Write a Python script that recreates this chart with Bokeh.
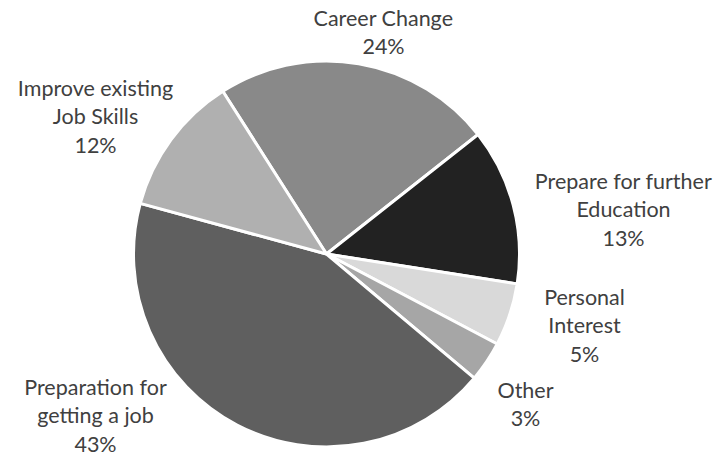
import math
from bokeh.plotting import figure
from bokeh.models import ColumnDataSource
from bokeh.core.properties import value
from bokeh.embed import file_html
from bokeh.resources import INLINE

# Data (clockwise order, starting from the Career Change slice)
categories = ["Career Change", "Prepare for further Education", "Personal Interest",
              "Other", "Preparation for getting a job", "Improve existing Job Skills"]
shares = [23.4, 13.1, 5.25, 3.4, 43.1, 11.75]
label_lines = [["Career Change", "24%"],
               ["Prepare for further", "Education", "13%"],
               ["Personal", "Interest", "5%"],
               ["Other", "3%"],
               ["Preparation for", "getting a job", "43%"],
               ["Improve existing", "Job Skills", "12%"]]
colors = ["#898989", "#222222", "#d9d9d9", "#a6a6a6", "#5f5f5f", "#b0b0b0"]

# Layout (screen-like coordinates: y measured from top)
W, H = 724, 459
cx, cy_top, R = 326, 253.5, 193
first_cw = -32.5  # degrees clockwise from 12 o'clock where first slice starts
label_pos_top = [(383, 17), (623, 180), (584, 296), (525, 389), (95, 386), (95, 87)]
line_gap = 28.7

total = sum(shares)
starts, ends = [], []
acc = first_cw
for s in shares:
    a0 = acc
    a1 = acc + s / total * 360.0
    starts.append(math.radians(90 - a0))
    ends.append(math.radians(90 - a1))
    acc = a1

src = ColumnDataSource(dict(cat=categories, start=starts, end=ends, color=colors))

p = figure(width=W, height=H, x_range=(0, W), y_range=(0, H),
           output_backend="svg", toolbar_location=None, min_border=0)
p.axis.visible = False
p.grid.visible = False
p.outline_line_color = None
p.background_fill_color = "white"

p.wedge(x=cx, y=H - cy_top, radius=R, start_angle="start", end_angle="end",
        direction="clock", fill_color="color", line_color="white",
        line_width=3, source=src)

tx, ty, tt = [], [], []
for (lx, ly), lines in zip(label_pos_top, label_lines):
    for i, t in enumerate(lines):
        tx.append(lx)
        ty.append(H - (ly + i * line_gap))
        tt.append(t)

p.text(x=tx, y=ty, text=tt, text_align="center", text_baseline="middle",
       text_font=value("Lato"), text_font_size="21.5px", text_color="#404040")

open("out.html", "w").write(file_html(p, INLINE))
